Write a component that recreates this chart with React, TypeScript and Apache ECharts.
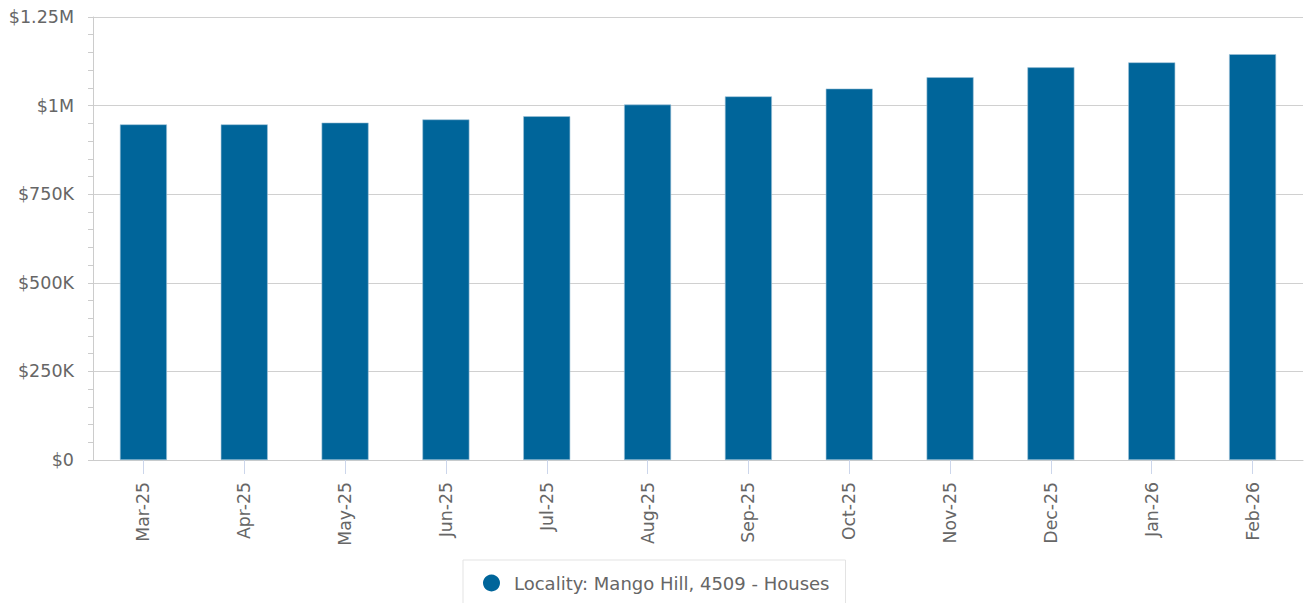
import React, { useEffect, useRef } from "react";
import * as echarts from "echarts";

const categories = ["Mar-25", "Apr-25", "May-25", "Jun-25", "Jul-25", "Aug-25", "Sep-25", "Oct-25", "Nov-25", "Dec-25", "Jan-26", "Feb-26"];
const values = [947000, 947000, 952000, 961000, 970000, 1003000, 1026000, 1048000, 1080000, 1108000, 1122000, 1145000];
const seriesName = "Locality: Mango Hill, 4509 - Houses";
const yMin = 0;
const yMax = 1250000;
const yInterval = 250000;

function fmt(v: number): string {
  if (v === 0) return "$0";
  if (v >= 1000000) return "$" + (v / 1000000).toString() + "M";
  return "$" + (v / 1000).toString() + "K";
}

export default function App() {
  const ref = useRef<HTMLDivElement>(null);
  useEffect(() => {
    if (!ref.current) return;
    const chart = echarts.init(ref.current, undefined, { renderer: "svg" });
    const font = "DejaVu Sans";
    chart.setOption({
      animation: false,
      backgroundColor: "#ffffff",
      textStyle: { fontFamily: font },
      grid: { left: 93, right: 3, top: 17, bottom: 143, containLabel: false },
      legend: {
        show: true,
        left: 463,
        top: 560,
        padding: [14, 16, 14, 20],
        borderColor: "#e3e3e3",
        borderWidth: 1,
        backgroundColor: "#ffffff",
        icon: "circle",
        itemWidth: 17,
        itemHeight: 17,
        itemStyle: { borderWidth: 0 },
        textStyle: { fontFamily: font, fontSize: 18, color: "#666666", padding: [0, 0, 0, 9] },
        data: [seriesName],
      },
      xAxis: {
        type: "category",
        data: categories,
        axisLine: { show: true, lineStyle: { color: "#cccccc", width: 1 } },
        axisTick: { show: true, alignWithLabel: true, length: 14, lineStyle: { color: "#ccd6eb" } },
        axisLabel: { rotate: 90, margin: 22, fontFamily: font, fontSize: 17.3, color: "#666666" },
        splitLine: { show: false },
      },
      yAxis: {
        type: "value",
        min: yMin,
        max: yMax,
        interval: yInterval,
        axisLine: { show: true, lineStyle: { color: "#cccccc", width: 1 } },
        axisTick: { show: true, length: 5, lineStyle: { color: "#cccccc" } },
        minorTick: { show: true, splitNumber: 5, length: 5, lineStyle: { color: "#cccccc" } },
        axisLabel: { margin: 19, fontFamily: font, fontSize: 17.5, color: "#666666", formatter: (v: number) => fmt(v) },
        splitLine: { show: true, lineStyle: { color: "#d0d0d0", width: 1 } },
      },
      series: [
        {
          name: seriesName,
          type: "bar",
          data: values,
          barWidth: 47,
          itemStyle: { color: "#00659a", borderColor: "#9fc3d9", borderWidth: 0.6 },
        },
      ],
    });
    return () => chart.dispose();
  }, []);
  return <div ref={ref} style={{ position: "fixed", left: 0, top: 0, width: 1306, height: 603 }} />;
}
